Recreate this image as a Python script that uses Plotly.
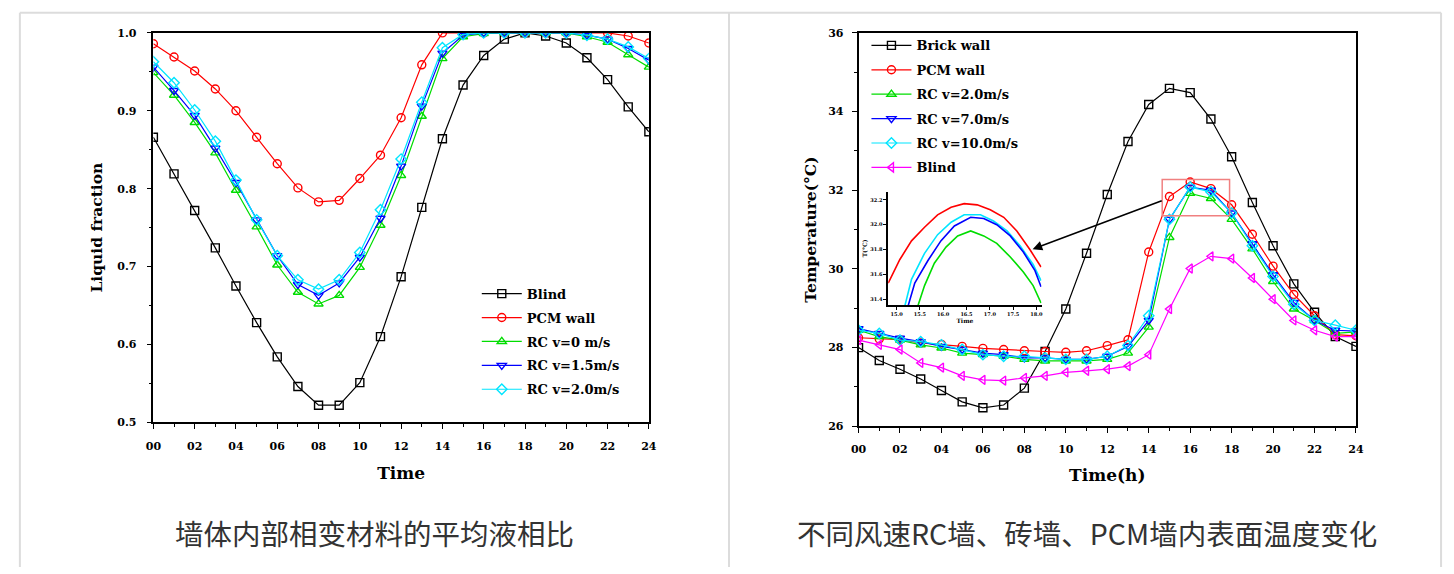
import plotly.graph_objects as go

W, H = 1454, 574

hours = list(range(25))
tick_vals = list(range(0, 25, 2))
tick_text = ["00", "02", "04", "06", "08", "10", "12", "14", "16", "18", "20", "22", "24"]

# ---- Left chart: liquid fraction ----
lf_names = ["Blind", "PCM wall", "RC v=0 m/s", "RC v=1.5m/s", "RC v=2.0m/s"]
lf_blind = [0.866, 0.819, 0.772, 0.724, 0.675, 0.628, 0.584, 0.546, 0.522, 0.522, 0.551, 0.610, 0.687,
            0.776, 0.864, 0.933, 0.971, 0.992, 1.000, 0.996, 0.987, 0.968, 0.940, 0.905, 0.873]
lf_pcm = [0.986, 0.969, 0.951, 0.928, 0.900, 0.866, 0.832, 0.801, 0.783, 0.785, 0.813, 0.843, 0.891,
          0.959, 1.000, 1.000, 1.000, 1.000, 1.000, 1.000, 1.000, 1.000, 1.000, 0.996, 0.987]
lf_rc0 = [0.949, 0.920, 0.885, 0.846, 0.798, 0.751, 0.702, 0.667, 0.652, 0.663, 0.699, 0.753, 0.817,
          0.893, 0.967, 0.995, 0.999, 1.000, 1.000, 1.000, 1.000, 0.995, 0.988, 0.972, 0.956]
lf_rc15 = [0.956, 0.926, 0.894, 0.852, 0.808, 0.760, 0.714, 0.677, 0.663, 0.679, 0.712, 0.762, 0.829,
           0.906, 0.974, 0.997, 1.000, 1.000, 1.000, 1.000, 1.000, 0.997, 0.992, 0.980, 0.965]
lf_rc20 = [0.963, 0.936, 0.901, 0.861, 0.811, 0.760, 0.714, 0.683, 0.671, 0.683, 0.718, 0.773, 0.838,
           0.911, 0.981, 0.998, 1.000, 1.000, 1.000, 1.000, 1.000, 0.997, 0.992, 0.982, 0.967]
lf_yticks = [0.5, 0.6, 0.7, 0.8, 0.9, 1.0]
lf_yticktext = ["0.5", "0.6", "0.7", "0.8", "0.9", "1.0"]

# ---- Right chart: inner surface temperature ----
t_names = ["Brick wall", "PCM wall", "RC v=2.0m/s", "RC v=7.0m/s", "RC v=10.0m/s", "Blind"]
t_brick = [28.00, 27.67, 27.45, 27.20, 26.91, 26.62, 26.47, 26.54, 26.97, 27.90, 28.98, 30.40, 31.89,
           33.24, 34.18, 34.59, 34.48, 33.81, 32.85, 31.69, 30.59, 29.62, 28.90, 28.28, 28.03]
t_pcm = [28.25, 28.22, 28.20, 28.12, 28.08, 28.03, 27.98, 27.95, 27.92, 27.90, 27.88, 27.92, 28.05,
         28.20, 30.43, 31.84, 32.21, 32.04, 31.63, 30.88, 30.07, 29.35, 28.81, 28.33, 28.30]
t_rc2 = [28.44, 28.28, 28.19, 28.07, 27.99, 27.86, 27.82, 27.78, 27.70, 27.66, 27.66, 27.66, 27.70,
         27.86, 28.52, 30.80, 31.92, 31.79, 31.26, 30.51, 29.68, 28.98, 28.69, 28.36, 28.40]
t_rc7 = [28.48, 28.36, 28.24, 28.15, 28.03, 27.95, 27.86, 27.82, 27.74, 27.74, 27.70, 27.70, 27.78,
         28.03, 28.69, 31.26, 32.08, 32.00, 31.42, 30.64, 29.85, 29.15, 28.69, 28.44, 28.42]
t_rc10 = [28.44, 28.36, 28.19, 28.15, 28.07, 27.95, 27.82, 27.78, 27.78, 27.74, 27.70, 27.70, 27.78,
          28.05, 28.81, 31.26, 32.08, 31.96, 31.42, 30.59, 29.81, 29.10, 28.69, 28.57, 28.44]
t_blind = [28.19, 28.07, 27.95, 27.61, 27.49, 27.28, 27.18, 27.16, 27.23, 27.28, 27.37, 27.41, 27.45,
           27.53, 27.82, 28.98, 30.01, 30.32, 30.26, 29.77, 29.23, 28.69, 28.44, 28.28, 28.28]
t_yticks = [26, 28, 30, 32, 34, 36]
t_yticktext = ["26", "28", "30", "32", "34", "36"]

# ---- Inset (zoom of the peak) ----
in_red_x = [14.82, 15.07, 15.32, 15.60, 15.88, 16.17, 16.45, 16.73, 17.01, 17.30, 17.58, 17.86, 18.10]
in_red_y = [31.53, 31.72, 31.87, 31.98, 32.08, 32.14, 32.17, 32.16, 32.12, 32.06, 31.95, 31.80, 31.66]
in_cyan_x = [15.18, 15.32, 15.60, 15.88, 16.17, 16.45, 16.80, 17.08, 17.37, 17.65, 17.93, 18.10]
in_cyan_y = [31.35, 31.56, 31.77, 31.92, 32.02, 32.08, 32.08, 32.03, 31.95, 31.83, 31.68, 31.55]
in_blue_x = [15.25, 15.39, 15.67, 15.95, 16.24, 16.59, 16.87, 17.15, 17.44, 17.72, 17.97, 18.10]
in_blue_y = [31.35, 31.53, 31.71, 31.87, 31.99, 32.06, 32.05, 32.00, 31.91, 31.78, 31.63, 31.50]
in_green_x = [15.46, 15.60, 15.81, 16.06, 16.31, 16.59, 16.87, 17.15, 17.44, 17.72, 17.93, 18.10]
in_green_y = [31.35, 31.51, 31.69, 31.82, 31.91, 31.95, 31.91, 31.85, 31.74, 31.62, 31.51, 31.37]
in_xticks = [15.0, 15.5, 16.0, 16.5, 17.0, 17.5, 18.0]
in_xticktext = ["15.0", "15.5", "16.0", "16.5", "17.0", "17.5", "18.0"]
in_yticks = [31.4, 31.6, 31.8, 32.0, 32.2]
in_yticktext = ["31.4", "31.6", "31.8", "32.0", "32.2"]

captions = ["墙体内部相变材料的平均液相比", "不同风速RC墙、砖墙、PCM墙内表面温度变化"]

COLORS = {"black": "#000000", "red": "#ff0000", "green": "#00dd00", "blue": "#0000ff",
          "cyan": "#00e5ff", "magenta": "#ff00ff"}
TFONT = "DejaVu Serif"

def px_x(p):
    return p / W

def px_y(p):
    return 1 - p / H

fig = go.Figure()

left_series = [
    (lf_names[0], lf_blind, "black", "square-open"),
    (lf_names[1], lf_pcm, "red", "circle-open"),
    (lf_names[2], lf_rc0, "green", "triangle-up-open"),
    (lf_names[3], lf_rc15, "blue", "triangle-down-open"),
    (lf_names[4], lf_rc20, "cyan", "diamond-open"),
]
for i, (nm, ys, col, sym) in enumerate(left_series):
    fig.add_trace(go.Scatter(
        x=hours, y=ys, name=nm, mode="lines+markers", xaxis="x", yaxis="y",
        line=dict(color=COLORS[col], width=1.2),
        marker=dict(symbol=sym, size=8, color=COLORS[col], line=dict(width=1.4, color=COLORS[col])),
        legend="legend", legendgroup="L%d" % i))

right_series = [
    (t_names[0], t_brick, "black", "square-open"),
    (t_names[1], t_pcm, "red", "circle-open"),
    (t_names[2], t_rc2, "green", "triangle-up-open"),
    (t_names[3], t_rc7, "blue", "triangle-down-open"),
    (t_names[4], t_rc10, "cyan", "diamond-open"),
    (t_names[5], t_blind, "magenta", "triangle-left-open"),
]
for i, (nm, ys, col, sym) in enumerate(right_series):
    fig.add_trace(go.Scatter(
        x=hours, y=ys, name=nm, mode="lines+markers", xaxis="x2", yaxis="y2",
        line=dict(color=COLORS[col], width=1.2),
        marker=dict(symbol=sym, size=8, color=COLORS[col], line=dict(width=1.4, color=COLORS[col])),
        legend="legend2", legendgroup="R%d" % i))

inset_series = [
    (in_red_x, in_red_y, "red"),
    (in_cyan_x, in_cyan_y, "cyan"),
    (in_blue_x, in_blue_y, "blue"),
    (in_green_x, in_green_y, "green"),
]
for xs, ys, col in inset_series:
    fig.add_trace(go.Scatter(
        x=xs, y=ys, mode="lines", xaxis="x3", yaxis="y3", showlegend=False,
        line=dict(color=COLORS[col], width=1.6)))

axis_common = dict(showline=True, linecolor="black", linewidth=1.6, mirror=True,
                   showgrid=False, zeroline=False, ticks="outside", ticklen=5, tickwidth=1.2,
                   tickcolor="black", tickfont=dict(family=TFONT, size=11, color="black", weight="bold"))
title_font_x = dict(family=TFONT, size=17, color="black", weight="bold")
title_font_y = dict(family=TFONT, size=15.5, color="black", weight="bold")

fig.update_layout(
    width=W, height=H, margin=dict(l=0, r=0, t=0, b=0),
    paper_bgcolor="white", plot_bgcolor="white",
    xaxis=dict(axis_common, domain=[px_x(147), px_x(648)], range=[0, 24], anchor="y",
               tickvals=tick_vals, ticktext=tick_text, ticklabelstandoff=8,
               minor=dict(ticks="outside", ticklen=3, dtick=1, tickcolor="black", tickwidth=1),
               title=dict(text="Time", font=title_font_x, standoff=15)),
    yaxis=dict(axis_common, domain=[px_y(426), px_y(27.5)], range=[0.5, 1.0], anchor="x",
               tickvals=lf_yticks, ticktext=lf_yticktext, ticklabelstandoff=8,
               minor=dict(ticks="outside", ticklen=3, dtick=0.05, tickcolor="black", tickwidth=1),
               title=dict(text="Liquid fraction", font=title_font_y, standoff=11)),
    xaxis2=dict(axis_common, domain=[px_x(860), px_x(1363)], range=[0, 24], anchor="y2",
                tickvals=tick_vals, ticktext=tick_text, ticklabelstandoff=7,
                minor=dict(ticks="outside", ticklen=3, dtick=1, tickcolor="black", tickwidth=1),
                title=dict(text="Time(h)", font=title_font_x, standoff=14)),
    yaxis2=dict(axis_common, domain=[px_y(430), px_y(27.5)], range=[26, 36], anchor="x2",
                tickvals=t_yticks, ticktext=t_yticktext, ticklabelstandoff=6,
                minor=dict(ticks="outside", ticklen=3, dtick=1, tickcolor="black", tickwidth=1),
                title=dict(text="Temperature(°C)", font=title_font_y, standoff=8)),
    xaxis3=dict(showline=True, linecolor="black", linewidth=1.5, mirror=False, showgrid=False, zeroline=False,
                domain=[px_x(890), px_x(1045)], range=[14.82, 18.11], anchor="y3",
                ticks="outside", ticklen=3, tickcolor="black", tickvals=in_xticks, ticktext=in_xticktext,
                tickfont=dict(family=TFONT, size=5, color="black", weight="bold"),
                title=dict(text="Time", font=dict(family=TFONT, size=6, color="black", weight="bold"), standoff=2)),
    yaxis3=dict(showline=True, linecolor="black", linewidth=1.5, mirror=False, showgrid=False, zeroline=False,
                domain=[px_y(306), px_y(190)], range=[31.353, 32.266], anchor="x3",
                ticks="outside", ticklen=3, tickcolor="black", tickvals=in_yticks, ticktext=in_yticktext,
                tickfont=dict(family=TFONT, size=5, color="black", weight="bold"),
                title=dict(text="T(°C)", font=dict(family=TFONT, size=6, color="black", weight="bold"), standoff=2)),
    legend=dict(x=px_x(474), y=px_y(279), xanchor="left", yanchor="top", bgcolor="rgba(0,0,0,0)",
                font=dict(family=TFONT, size=13, color="black", weight="bold"), itemwidth=40,
                tracegroupgap=4, traceorder="grouped"),
    legend2=dict(x=px_x(868), y=px_y(25), xanchor="left", yanchor="top", bgcolor="rgba(0,0,0,0)",
                 font=dict(family=TFONT, size=13, color="black", weight="bold"), itemwidth=40,
                 tracegroupgap=4.5, traceorder="grouped"),
    showlegend=True,
)

# zoom rectangle and arrow on the right chart
fig.add_shape(type="rect", xref="x2", yref="y2", x0=14.65, x1=17.9, y0=31.35, y1=32.27,
              line=dict(color="#f08080", width=1.5), fillcolor="rgba(0,0,0,0)")
fig.add_annotation(xref="x2", yref="y2", axref="x2", ayref="y2", x=8.4, y=30.5, ax=14.7, ay=31.75,
                   text="", showarrow=True, arrowhead=2, arrowsize=1.2, arrowwidth=1.6, arrowcolor="black")

# table borders
border = "#dcdcdc"
for (x0, y0, x1, y1) in [(12, 7, 1449, 7), (12, 7, 12, 574), (729, 7, 729, 574), (1449, 7, 1449, 574)]:
    fig.add_shape(type="line", xref="paper", yref="paper", x0=px_x(x0), x1=px_x(x1), y0=px_y(y0), y1=px_y(y1),
                  line=dict(color=border, width=2))

# captions
for cx, txt in zip([371, 1091], captions):
    fig.add_annotation(xref="paper", yref="paper", x=px_x(cx), y=px_y(539), text=txt, showarrow=False,
                       xanchor="center", yanchor="middle",
                       font=dict(family="Noto Sans CJK SC", size=28.5, color="#333333"))

fig.write_html("out.html", config={"displayModeBar": False},
               post_script="document.body.style.margin='0';document.body.style.overflow='hidden';")
